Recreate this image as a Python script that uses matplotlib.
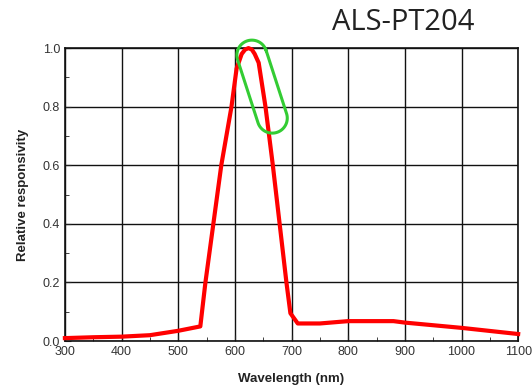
import numpy as np
import matplotlib
matplotlib.use("Agg")
import matplotlib.pyplot as plt
from matplotlib.transforms import IdentityTransform

# spectral response
wavelength = [300, 350, 400, 450, 500, 539, 548, 562, 576, 594, 603, 612, 618, 624, 630,
              635, 642, 654, 667, 679, 691, 698, 711, 750, 800, 880, 900, 1000, 1100]
response = [0.010, 0.013, 0.015, 0.020, 0.035, 0.050, 0.20, 0.40, 0.60, 0.80, 0.93,
            0.98, 0.995, 1.00, 0.995, 0.98, 0.95, 0.80, 0.60, 0.40, 0.20, 0.095, 0.060,
            0.060, 0.068, 0.068, 0.063, 0.045, 0.024]
x_ticks = [300, 400, 500, 600, 700, 800, 900, 1000, 1100]
y_ticks = [0.0, 0.2, 0.4, 0.6, 0.8, 1.0]

# highlight capsule around the peak (data coords of its two cap centres)
cap_a = (630, 0.976)
cap_b = (666, 0.761)

plt.rcParams['font.family'] = ['Liberation Sans', 'DejaVu Sans']

fig = plt.figure(figsize=(5.32, 3.88), dpi=100)
ax = fig.add_axes([0.122, 0.121, 0.852, 0.755])

ax.plot(wavelength, response, color='#ff0000', lw=3, solid_joinstyle='round',
        clip_on=False, zorder=3)

ax.set_xlim(300, 1100)
ax.set_ylim(0, 1.0)
ax.set_xticks(x_ticks)
ax.set_yticks(y_ticks)
ax.set_xticks(np.arange(350, 1100, 100), minor=True)
ax.set_yticks(np.arange(0.1, 1.0, 0.2), minor=True)
ax.set_xticklabels([str(v) for v in x_ticks])
ax.set_yticklabels([f"{v:.1f}" for v in y_ticks])
ax.tick_params(which='both', direction='in', colors='#222222', labelcolor='#333333',
               labelsize=9)
ax.tick_params(which='major', length=4)
ax.tick_params(which='minor', length=3)
ax.grid(True, which='major', color='#111111', lw=1)
for s in ax.spines.values():
    s.set_color('#111111')
    s.set_linewidth(1.2)

ax.set_xlabel('Wavelength (nm)', fontweight='bold', fontsize=9.5, color='#222222', labelpad=11)
ax.set_ylabel('Relative responsivity', fontweight='bold', fontsize=9.5, color='#222222', labelpad=10)

fig.text(0.757, 0.942, 'ALS-PT204', fontsize=21, color='#222222', ha='center', va='center',
         family=['Open Sans', 'DejaVu Sans'])

# draw capsule in display pixels
fig.canvas.draw()
pa = ax.transData.transform(cap_a)
pb = ax.transData.transform(cap_b)
r = 15
d = pb - pa
ang = np.arctan2(d[1], d[0])
t1 = np.linspace(ang + np.pi / 2, ang + 3 * np.pi / 2, 40)
t2 = np.linspace(ang - np.pi / 2, ang + np.pi / 2, 40)
xs = np.concatenate([pa[0] + r * np.cos(t1), pb[0] + r * np.cos(t2), [pa[0] + r * np.cos(t1[0])]])
ys = np.concatenate([pa[1] + r * np.sin(t1), pb[1] + r * np.sin(t2), [pa[1] + r * np.sin(t1[0])]])
ax.plot(xs, ys, color='#33cc33', lw=2.2, transform=IdentityTransform(), clip_on=False, zorder=4)

fig.savefig('out.png', dpi=100)
